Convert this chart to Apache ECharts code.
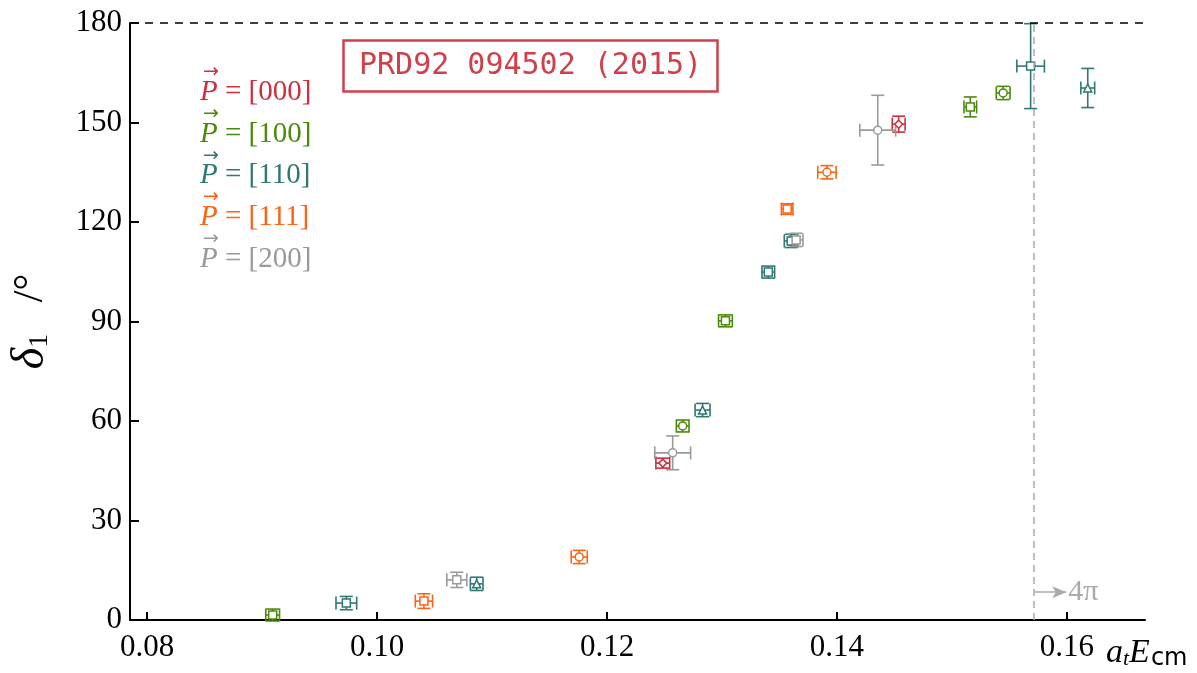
<!DOCTYPE html>
<html>
<head>
<meta charset="utf-8">
<script src="https://cdn.jsdelivr.net/npm/echarts@6/dist/echarts.min.js"></script>
<style>
  html, body { margin: 0; padding: 0; background: #fff; }
  #main { width: 1197px; height: 673px; }
</style>
</head>
<body>
<div id="main"></div>
<script>
// phase shift delta_1 vs a_t E_cm, per momentum frame
var names = ['[000]', '[100]', '[110]', '[111]', '[200]'];
var colors = ['#cc2f3e', '#4c8a0c', '#2f7873', '#fb6414', '#9a9a9a'];

var x000 = [0.12485, 0.14537];
var y000 = [47.3, 149.5];
var dx000 = [0.0006, 0.00056];
var dy000 = [1.5, 2.4];
var m000 = ['diamond', 'diamond'];

var x100 = [0.09091, 0.12658, 0.13030, 0.15160, 0.15446];
var y100 = [1.5, 58.5, 90.2, 154.7, 158.9];
var dx100 = [0.0006, 0.00055, 0.0006, 0.00055, 0.0006];
var dy100 = [1.8, 1.8, 1.8, 3.0, 2.0];
var m100 = ['rect', 'circle', 'rect', 'rect', 'circle'];

var x110 = [0.09732, 0.10866, 0.12831, 0.13403, 0.13602, 0.15685, 0.16182];
var y110 = [5.1, 10.9, 63.3, 104.9, 114.3, 167.0, 160.4];
var dx110 = [0.0009, 0.00055, 0.00065, 0.00055, 0.0006, 0.0012, 0.0006];
var dy110 = [2.0, 2.0, 2.0, 1.8, 2.0, 12.8, 5.9];
var m110 = ['rect', 'triangle', 'triangle', 'rect', 'rect', 'rect', 'triangle'];

var x111 = [0.10407, 0.11758, 0.13567, 0.13913];
var y111 = [5.7, 19.0, 123.9, 135.0];
var dx111 = [0.00075, 0.0007, 0.0005, 0.0008];
var dy111 = [2.2, 2.0, 1.6, 2.0];
var m111 = ['rect', 'circle', 'rect', 'circle'];

var x200 = [0.10693, 0.12571, 0.14355, 0.13645];
var y200 = [12.1, 50.4, 147.7, 114.6];
var dx200 = [0.00087, 0.00156, 0.00156, 0.0006];
var dy200 = [2.3, 5.1, 10.5, 2.0];
var m200 = ['rect', 'circle', 'circle', 'rect'];

var xTicks = [0.08, 0.10, 0.12, 0.14, 0.16];
var fourPiX = 0.1571;

var frames = [
  [x000, y000, dx000, dy000, m000],
  [x100, y100, dx100, dy100, m100],
  [x110, y110, dx110, dy110, m110],
  [x111, y111, dx111, dy111, m111],
  [x200, y200, dx200, dy200, m200]
];

function legendName(n) { return 'P\u20D7 = ' + n; }

function barRenderer(color) {
  return function (params, api) {
    var x = api.value(0), y = api.value(1), dx = api.value(2), dy = api.value(3);
    var l = api.coord([x - dx, y]), r = api.coord([x + dx, y]);
    var t = api.coord([x, y + dy]), b = api.coord([x, y - dy]);
    var c = 6.5;
    var st = { stroke: color, lineWidth: 1.6 };
    var seg = function (x1, y1, x2, y2) {
      return { type: 'line', shape: { x1: x1, y1: y1, x2: x2, y2: y2 }, style: st };
    };
    return {
      type: 'group',
      children: [
        seg(l[0], l[1], r[0], r[1]),
        seg(t[0], t[1], b[0], b[1]),
        seg(l[0], l[1] - c, l[0], l[1] + c),
        seg(r[0], r[1] - c, r[0], r[1] + c),
        seg(t[0] - c, t[1], t[0] + c, t[1]),
        seg(b[0] - c, b[1], b[0] + c, b[1])
      ]
    };
  };
}

var series = [];
frames.forEach(function (f, i) {
  var name = legendName(names[i]);
  var bars = f[0].map(function (x, j) { return [x, f[1][j], f[2][j], f[3][j]]; });
  var pts = f[0].map(function (x, j) { return { value: [x, f[1][j]], symbol: f[4][j] }; });
  series.push({
    name: name,
    type: 'custom',
    renderItem: barRenderer(colors[i]),
    encode: { x: 0, y: 1 },
    itemStyle: { color: colors[i] },
    data: bars,
    z: 3
  });
  series.push({
    name: name,
    type: 'scatter',
    symbolSize: 8,
    itemStyle: { color: '#fff', borderColor: colors[i], borderWidth: 1.5, opacity: 1 },
    emphasis: { disabled: true },
    data: pts,
    z: 4
  });
});

// reference lines: 180 degrees, 4pi threshold and its arrow
series.push({
  name: 'lines',
  type: 'scatter',
  data: [],
  markLine: {
    silent: true,
    symbol: 'none',
    animation: false,
    data: [
      [{ coord: [0.0785, 180], lineStyle: { color: '#000', type: [8, 7], width: 1.5 } },
       { coord: [0.1668, 180] }],
      [{ coord: [fourPiX, 0], lineStyle: { color: '#aaa', type: [7, 5], width: 1.5 } },
       { coord: [fourPiX, 180] }],
      [{ coord: [fourPiX + 0.0001, 8.4], symbol: 'none',
         lineStyle: { color: '#aaa', type: 'solid', width: 1.5 } },
       { coord: [0.15995, 8.4], symbol: 'arrow', symbolSize: [9, 14],
         label: { show: true, position: 'end', formatter: '4π', color: '#aaa',
                  fontFamily: 'Liberation Serif', fontSize: 30, distance: 2 } }]
    ],
    label: { show: false }
  }
});

// vector arrows drawn over the legend's P
var arrows = names.map(function (n, i) {
  return {
    type: 'text',
    left: 203,
    top: 63 + i * 41.6,
    silent: true,
    style: { text: '\u2192', fill: colors[i], fontFamily: 'DejaVu Sans', fontSize: 19 }
  };
});

var chart = echarts.init(document.getElementById('main'));
chart.setOption({
  animation: false,
  backgroundColor: '#fff',
  grid: { left: 125, right: 52, top: 23, bottom: 53, containLabel: false },
  xAxis: {
    type: 'value',
    min: 0.0785,
    max: 0.1668,
    axisLine: { lineStyle: { color: '#000', width: 2 } },
    axisTick: { inside: true, length: 8, lineStyle: { color: '#000', width: 2 }, customValues: xTicks },
    axisLabel: {
      customValues: xTicks,
      formatter: function (v) { return v.toFixed(2); },
      color: '#000', fontFamily: 'Liberation Serif', fontSize: 31, margin: 12
    },
    splitLine: { show: false }
  },
  yAxis: {
    type: 'value',
    min: 0,
    max: 180,
    interval: 30,
    name: '{d|δ}{s|1}   /°',
    nameLocation: 'middle',
    nameRotate: 90,
    nameGap: 76,
    nameTextStyle: {
      color: '#000', fontFamily: 'Liberation Serif', fontSize: 42,
      rich: {
        d: { fontStyle: 'italic', fontFamily: 'Liberation Serif', fontSize: 46 },
        s: { fontFamily: 'Liberation Serif', fontSize: 28, padding: [17, 0, 0, 0] }
      }
    },
    axisLine: { show: true, lineStyle: { color: '#000', width: 2 } },
    axisTick: { inside: true, length: 9, lineStyle: { color: '#000', width: 2 } },
    axisLabel: { color: '#000', fontFamily: 'Liberation Serif', fontSize: 31, margin: 8 },
    splitLine: { show: false }
  },
  legend: {
    orient: 'vertical',
    left: 190,
    top: 73,
    icon: 'none',
    itemWidth: 0,
    itemHeight: 0,
    itemGap: 12.6,
    selectedMode: false,
    data: names.map(function (n, i) {
      return { name: legendName(n), textStyle: { color: colors[i] } };
    }),
    formatter: function (name) { return '{i|P}' + name.slice(2); },
    textStyle: {
      fontFamily: 'Liberation Serif', fontSize: 29,
      rich: { i: { fontStyle: 'italic', fontFamily: 'Liberation Serif', fontSize: 29 } }
    }
  },
  title: {
    text: 'PRD92 094502 (2015)',
    left: 343,
    top: 40,
    borderColor: '#d0404a',
    borderWidth: 2.5,
    padding: [11, 16, 11, 16],
    textStyle: { color: '#d0404a', fontFamily: 'DejaVu Sans Mono', fontWeight: 'normal', fontSize: 30 }
  },
  graphic: arrows.concat([{
    type: 'text',
    left: 1106,
    top: 636,
    style: {
      text: '{i|a}{sub|t}{i|E}{cm|cm}',
      fill: '#000',
      rich: {
        i: { fontStyle: 'italic', fontFamily: 'Liberation Serif', fontSize: 34, fill: '#000' },
        sub: { fontStyle: 'italic', fontFamily: 'Liberation Serif', fontSize: 22, fill: '#000', padding: [13, 0, 0, 0] },
        cm: { fontFamily: 'DejaVu Sans', fontSize: 24, fill: '#000', padding: [11, 0, 0, 1] }
      }
    }
  }]),
  series: series
});
</script>
</body>
</html>
